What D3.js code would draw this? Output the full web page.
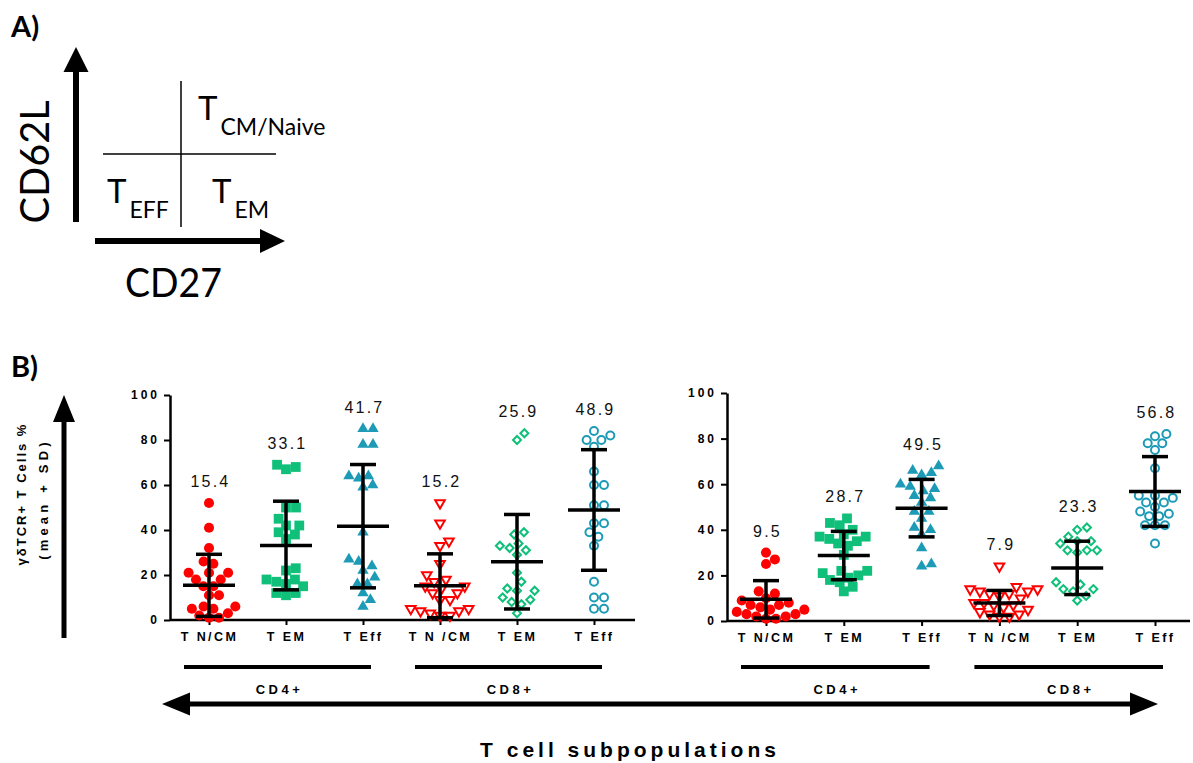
<!DOCTYPE html>
<html>
<head>
<meta charset="utf-8">
<script src="https://cdn.jsdelivr.net/npm/d3@7"></script>
<style>
  body { margin: 0; background: #fff; }
  svg { display: block; }
</style>
</head>
<body>
<svg id="chart" width="1193" height="763"></svg>
<script>
// x categories, groups and y ticks
var categories = ['T N/CM', 'T EM', 'T Eff', 'T N /CM', 'T EM', 'T Eff']
var groupNames = ['CD4+', 'CD8+']
var yTicks = [0, 20, 40, 60, 80, 100]

// left plot: individual values (%)
var leftCd4Ncm = [52, 41, 32, 26, 25, 21, 21, 21, 18, 18, 15, 15, 11, 11, 6, 6, 5, 5, 3, 2, 1, 1]
var leftCd4Em  = [69, 68, 67, 50, 50, 45, 42, 42, 39, 38, 36, 23, 22, 18, 18, 17, 16, 15, 12, 12, 11]
var leftCd4Eff = [85, 85, 78, 78, 64, 64, 63, 60, 59, 39, 27, 26, 24, 22, 19, 16, 16, 12, 9, 6]
var leftCd8Ncm = [52, 43, 35, 33, 25, 20, 18, 17, 15, 15, 14, 12, 12, 9, 9, 5, 5, 4, 4, 3, 2, 2]
var leftCd8Em  = [83, 80, 39, 38, 34, 33, 32, 31, 29, 21, 17, 14, 13, 13, 10, 9, 8, 7, 3]
var leftCd8Eff = [84, 82, 80, 80, 77, 66, 60, 60, 51, 51, 43, 43, 39, 37, 33, 17, 10, 10, 5, 5]
var leftMeans  = [15.4, 33.1, 41.7, 15.2, 25.9, 48.9]
var leftSd     = [13.8, 19.7, 27.4, 14.2, 21.0, 26.8]

// right plot: individual values (%)
var rightCd4Ncm = [30, 27, 25, 13, 12, 10, 9, 8, 7, 7, 6, 5, 5, 4, 3, 3, 2, 2, 1, 1]
var rightCd4Em  = [45, 43, 42, 40, 38, 37, 37, 36, 35, 34, 33, 29, 22, 22, 21, 20, 19, 18, 17, 15, 13]
var rightCd4Eff = [68, 66, 65, 64, 60, 59, 58, 57, 55, 54, 52, 48, 48, 45, 41, 40, 38, 32, 25, 24]
var rightCd8Ncm = [24, 15, 14, 14, 13, 13, 12, 12, 11, 10, 8, 8, 7, 7, 6, 5, 4, 3, 3, 2, 2]
var rightCd8Em  = [41, 40, 37, 35, 35, 34, 31, 31, 31, 30, 17, 16, 14, 14, 13, 11, 9]
var rightCd8Eff = [82, 81, 78, 78, 75, 67, 55, 55, 54, 52, 52, 50, 48, 47, 46, 46, 42, 42, 42, 34]
var rightMeans  = [9.5, 28.7, 49.5, 7.9, 23.3, 56.8]
var rightSd     = [8.2, 10.6, 12.6, 5.5, 11.7, 15.3]

var red = '#ff0000', green = '#10c07a', teal = '#1c9ab6'

// marker look for each category
var markers = [
  {type: d3.symbolCircle,   size: 80, fill: red,   stroke: 'none', rot: 0},
  {type: d3.symbolSquare,   size: 96, fill: green, stroke: 'none', rot: 0},
  {type: d3.symbolTriangle, size: 56, fill: teal,  stroke: 'none', rot: 0},
  {type: d3.symbolTriangle, size: 40, fill: 'none', stroke: red,   rot: 180},
  {type: d3.symbolSquare,   size: 32, fill: 'none', stroke: green, rot: 45},
  {type: d3.symbolCircle,   size: 50, fill: 'none', stroke: teal,  rot: 0}
]

var svg = d3.select('#chart')
var bold = '"Liberation Sans", Arial, sans-serif'
var calibri = 'Lato, "Open Sans", sans-serif'

function arrowHead(tx, ty, dir, len, wid){
  // dir: 'up', 'left', 'right'
  var p = d3.path()
  p.moveTo(tx, ty)
  if(dir == 'up'){ p.lineTo(tx - wid/2, ty + len); p.lineTo(tx + wid/2, ty + len) }
  if(dir == 'left'){ p.lineTo(tx + len, ty - wid/2); p.lineTo(tx + len, ty + wid/2) }
  if(dir == 'right'){ p.lineTo(tx - len, ty - wid/2); p.lineTo(tx - len, ty + wid/2) }
  p.closePath()
  return p.toString()
}

// simple beeswarm, offsets in px
function swarm(vals, y, d){
  var pts = vals.map(function(v){ return {v: v, y: y(v), x: 0} })
    .sort(function(a, b){ return b.y - a.y })
  var placed = []
  pts.forEach(function(p){
    var cands = [0]
    placed.forEach(function(q){
      var dy = Math.abs(q.y - p.y)
      if(dy < d){
        var dx = Math.sqrt(d*d - dy*dy)
        cands.push(q.x + dx, q.x - dx)
      }
    })
    cands.sort(function(a, b){ return Math.abs(a) - Math.abs(b) })
    for(var k = 0; k < cands.length; k++){
      var c = cands[k]
      var ok = placed.every(function(q){
        return (q.x - c)*(q.x - c) + (q.y - p.y)*(q.y - p.y) >= d*d - 0.01
      })
      if(ok){ p.x = c; break }
    }
    placed.push(p)
  })
  return pts
}

/* ---------- panel A ---------- */
var pa = svg.append('g').attr('class', 'panelA')
pa.append('text').attr('x', 11).attr('y', 37)
  .style('font-family', calibri).style('font-weight', 'bold').style('font-size', '29px')
  .text('A)')
pa.append('line').attr('x1', 76).attr('x2', 76).attr('y1', 222).attr('y2', 66)
  .attr('stroke', '#000').attr('stroke-width', 6)
pa.append('path').attr('d', arrowHead(76, 47, 'up', 25, 25))
pa.append('line').attr('x1', 95).attr('x2', 266).attr('y1', 241).attr('y2', 241)
  .attr('stroke', '#000').attr('stroke-width', 6)
pa.append('path').attr('d', arrowHead(285, 241, 'right', 25, 24))
pa.append('text')
  .attr('transform', 'translate(49,162) rotate(-90)')
  .attr('text-anchor', 'middle')
  .attr('textLength', 123).attr('lengthAdjust', 'spacingAndGlyphs')
  .style('font-family', calibri).style('font-size', '41px')
  .text('CD62L')
pa.append('text').attr('x', 125).attr('y', 297)
  .attr('textLength', 97).attr('lengthAdjust', 'spacingAndGlyphs')
  .style('font-family', calibri).style('font-size', '41px')
  .text('CD27')
pa.append('line').attr('x1', 181).attr('x2', 181).attr('y1', 81).attr('y2', 227)
  .attr('stroke', '#000').attr('stroke-width', 1.5)
pa.append('line').attr('x1', 103).attr('x2', 276).attr('y1', 154).attr('y2', 154)
  .attr('stroke', '#000').attr('stroke-width', 1.5)

var quads = [
  {x: 198, y: 120, sub: 'CM/Naive'},
  {x: 107, y: 203, sub: 'EFF'},
  {x: 212, y: 203, sub: 'EM'}
]
quads.forEach(function(q){
  var t = pa.append('text').attr('x', q.x).attr('y', q.y)
    .style('font-family', calibri).style('font-size', '33px')
  t.append('tspan').text('T')
  t.append('tspan').attr('dy', 15).attr('dx', 3).style('font-size', '23px').text(q.sub)
})

/* ---------- panel B ---------- */
svg.append('text').attr('x', 11).attr('y', 377)
  .style('font-family', calibri).style('font-weight', 'bold').style('font-size', '29px')
  .text('B)')

// y axis title and arrow
svg.append('text')
  .attr('transform', 'translate(25.5,494) rotate(-90)')
  .attr('text-anchor', 'middle')
  .style('font-family', bold).style('font-weight', 'bold').style('font-size', '13px')
  .style('letter-spacing', '2px')
  .text('γδTCR+ T Cells %')
svg.append('text')
  .attr('transform', 'translate(47.5,499) rotate(-90)')
  .attr('text-anchor', 'middle')
  .style('font-family', bold).style('font-weight', 'bold').style('font-size', '13px')
  .style('letter-spacing', '4.2px')
  .text('(mean + SD)')
svg.append('line').attr('x1', 64).attr('x2', 64).attr('y1', 638).attr('y2', 418)
  .attr('stroke', '#000').attr('stroke-width', 5)
svg.append('path').attr('d', arrowHead(64, 395, 'up', 27, 22))

var panels = [
  {values: [leftCd4Ncm, leftCd4Em, leftCd4Eff, leftCd8Ncm, leftCd8Em, leftCd8Eff],
   means: leftMeans, sd: leftSd, axisX: 170, y0: 620, y100: 395, xRange: [209, 594], xEnd: 635},
  {values: [rightCd4Ncm, rightCd4Em, rightCd4Eff, rightCd8Ncm, rightCd8Em, rightCd8Eff],
   means: rightMeans, sd: rightSd, axisX: 727, y0: 621, y100: 393, xRange: [766, 1155], xEnd: 1190}
]

panels.forEach(function(p){
  var y = d3.scaleLinear().domain([0, 100]).range([p.y0, p.y100])
  var x = d3.scalePoint().domain(d3.range(categories.length)).range(p.xRange)
  var g = svg.append('g').attr('class', 'panel')

  // y axis
  var ya = g.append('g').attr('transform', 'translate(' + p.axisX + ',0)')
    .call(d3.axisLeft(y).tickValues(yTicks).tickSize(6).tickSizeOuter(0).tickPadding(4))
  ya.select('.domain').attr('stroke-width', 2.5)
  ya.selectAll('.tick line').attr('stroke-width', 2)
  ya.selectAll('.tick text')
    .style('font-family', bold).style('font-weight', 'bold').style('font-size', '12px')
    .style('letter-spacing', '3px').attr('fill', '#000')

  // x axis
  var xa = g.append('g').attr('transform', 'translate(0,' + p.y0 + ')')
    .call(d3.axisBottom(x).tickSize(5).tickSizeOuter(0).tickPadding(7)
      .tickFormat(function(i){ return categories[i] }))
  xa.select('.domain').remove()
  xa.selectAll('.tick line').attr('stroke-width', 2)
  xa.selectAll('.tick text')
    .style('font-family', bold).style('font-weight', 'bold').style('font-size', '12.5px')
    .style('letter-spacing', '2.4px').attr('fill', '#000')
  g.append('line').attr('x1', p.axisX).attr('x2', p.xEnd)
    .attr('y1', p.y0).attr('y2', p.y0)
    .attr('stroke', '#000').attr('stroke-width', 2.5)

  // points
  p.values.forEach(function(vals, i){
    var m = markers[i]
    var pts = swarm(vals, y, 10)
    g.append('g').selectAll('path')
      .data(pts)
      .enter()
      .append('path')
      .attr('d', d3.symbol().type(m.type).size(m.size))
      .attr('transform', function(d){
        return 'translate(' + (x(i) + d.x) + ',' + d.y + ') rotate(' + m.rot + ')'
      })
      .attr('fill', m.fill)
      .attr('stroke', m.stroke)
      .attr('stroke-width', 2)

    // mean + SD bars
    var mean = p.means[i], sd = p.sd[i]
    var eb = g.append('g').attr('stroke', '#000').attr('stroke-width', 3.5)
    eb.append('line').attr('x1', x(i)).attr('x2', x(i))
      .attr('y1', y(Math.max(0, mean - sd))).attr('y2', y(mean + sd))
    eb.append('line').attr('x1', x(i) - 26).attr('x2', x(i) + 26)
      .attr('y1', y(mean)).attr('y2', y(mean))
    eb.append('line').attr('x1', x(i) - 13).attr('x2', x(i) + 13)
      .attr('y1', y(mean + sd)).attr('y2', y(mean + sd))
    eb.append('line').attr('x1', x(i) - 13).attr('x2', x(i) + 13)
      .attr('y1', y(Math.max(0, mean - sd))).attr('y2', y(Math.max(0, mean - sd)))

    // mean label
    g.append('text')
      .attr('x', x(i) + 1.5).attr('y', y(d3.max(vals)) - 16)
      .attr('text-anchor', 'middle')
      .style('font-family', bold).style('font-size', '16px')
      .style('letter-spacing', '2.2px').attr('fill', '#111')
      .text(mean.toFixed(1))
  })

  // CD4+/CD8+ bars
  groupNames.forEach(function(name, k){
    var x0 = x(k*3) - 25, x1 = x(k*3 + 2) + 8
    g.append('line').attr('x1', x0).attr('x2', x1).attr('y1', 667).attr('y2', 667)
      .attr('stroke', '#000').attr('stroke-width', 4)
    g.append('text').attr('x', (x0 + x1)/2 + 2).attr('y', 694)
      .attr('text-anchor', 'middle')
      .style('font-family', bold).style('font-weight', 'bold').style('font-size', '13px')
      .style('letter-spacing', '3.5px')
      .text(name)
  })
})

// double headed arrow and title
svg.append('line').attr('x1', 188).attr('x2', 1132).attr('y1', 704).attr('y2', 704)
  .attr('stroke', '#000').attr('stroke-width', 5)
svg.append('path').attr('d', arrowHead(162, 704, 'left', 28, 23))
svg.append('path').attr('d', arrowHead(1158, 704, 'right', 28, 23))
svg.append('text').attr('x', 630).attr('y', 757)
  .attr('text-anchor', 'middle')
  .style('font-family', bold).style('font-weight', 'bold').style('font-size', '21px')
  .style('letter-spacing', '4px')
  .text('T cell subpopulations')
</script>
</body>
</html>
